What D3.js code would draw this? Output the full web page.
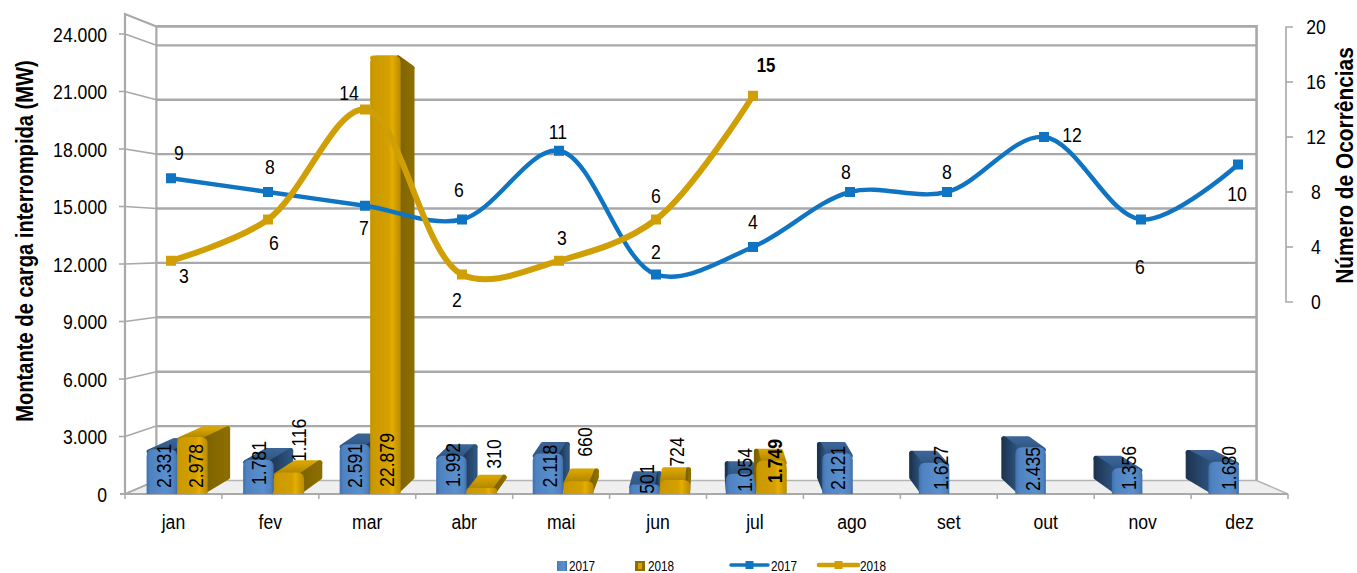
<!DOCTYPE html>
<html><head><meta charset="utf-8">
<script src="https://cdn.jsdelivr.net/npm/d3@7"></script>
<style>
html,body{margin:0;padding:0;background:#fff}
svg{display:block}
text{font-family:"Liberation Sans",Arial,sans-serif;fill:#000}
</style></head><body>
<svg id="c" width="1357" height="573"></svg>
<script>
const months=["jan","fev","mar","abr","mai","jun","jul","ago","set","out","nov","dez"];
const load2017=[2331,1781,2591,1992,2118,501,1054,2121,1627,2435,1356,1680];
const load2018=[2978,1116,22879,310,660,724,1749];
const occ2017=[9,8,7,6,11,2,4,8,8,12,6,10];
const occ2018=[3,6,14,2,3,6,15];
const leftTicks=[0,3000,6000,9000,12000,15000,18000,21000,24000];
const rightTicks=[0,4,8,12,16,20];
// label nudges (layout only)
const lab17=[[-14,-28],[-15,-31],[-16,-28],[-14,-29],[-14,-28],[-13,-15],[-12,-24],[-15,-26],[-9,-26],[-13,-25],[-14,-26],[-10,-26]];
const lab18=[[3,-28],[10,-54],[1,-34],[11,-40],[6,-52],[1,-42],[3,-33]];
const occ17Off=[[8,-26],[2,-26],[-1,22],[-3,-30],[-1,-19],[0,-23],[0,-26],[-4,-21],[0,-21],[28,-3],[-1,47],[-1,29]];
const occ18Off=[[13,15],[6,23],[-16,-17],[-5,25],[3,-23],[0,-24],[13,-31]];

const fmt=d3.format(",");
const ptBr=v=>fmt(v).replace(/,/g,".");
const svg=d3.select("#c");
const L=125,R=1288,floorY=494;
const y=d3.scaleLinear().domain([0,24000]).range([floorY,34]);
const yR=d3.scaleLinear().domain([0,20]).range([302,27]);
const band=d3.scaleBand().domain(months).range([L,R]);
const xPt=d3.scalePoint().domain(months).range([171,1238]);
const vx=706,vy=244,wallK=0.054,barK=0.045,barKY=0.054;
const px=(x,k)=>x+(vx-x)*k, py=(v,k)=>v+(vy-v)*k;
const topFront=14;

const defs=svg.append("defs");
function grad(id,stops,x2=1,y2=0){
  const g=defs.append("linearGradient").attr("id",id).attr("x1",0).attr("y1",0).attr("x2",x2).attr("y2",y2);
  stops.forEach(s=>g.append("stop").attr("offset",s[0]).attr("stop-color",s[1]));
}
grad("bf",[[0,"#3f70ad"],[.12,"#4f82c0"],[.65,"#5a8fce"],[.9,"#4f82bf"],[1,"#3f6ea8"]]);
grad("gf",[[0,"#c49300"],[.12,"#cc9a00"],[.6,"#d4a000"],[.72,"#e6ae05"],[.85,"#cf9c00"],[1,"#b98b00"]]);
grad("bs",[[0,"#1f3654"],[1,"#2f5580"]]);
grad("gs",[[0,"#7d6200"],[1,"#8c6e00"]]);
grad("bt",[[0,"#3a6496"],[1,"#2d5480"]],0,1);
grad("gt",[[0,"#d8a400"],[1,"#a98000"]],0,1);
defs.append("filter").attr("id","soft").attr("x","-5%").attr("y","-5%").attr("width","110%").attr("height","110%")
  .append("feGaussianBlur").attr("stdDeviation",0.6);

// walls
const gridC="#a9a9a9";
const wall=svg.append("g").attr("fill","none").attr("stroke",gridC);
svg.insert("polygon","g").attr("fill","#efefef").attr("stroke","#b5b5b5").attr("stroke-width",1.5)
  .attr("points",[[L,floorY],[R,floorY],[px(R,wallK),py(floorY,wallK)],[px(L,wallK),py(floorY,wallK)]].join(" "));
wall.selectAll("line.g").data(leftTicks.slice(1)).join("line").attr("stroke-width",2.4)
  .attr("x1",px(L,wallK)).attr("x2",px(R,wallK))
  .attr("y1",d=>py(y(d),wallK)).attr("y2",d=>py(y(d),wallK));
wall.selectAll("line.s").data(leftTicks.slice(1)).join("line").attr("stroke-width",1.6)
  .attr("x1",L-6).attr("x2",L).attr("y1",d=>y(d)).attr("y2",d=>y(d));
wall.selectAll("path.s").data(leftTicks).join("path").attr("stroke-width",1.6)
  .attr("d",d=>`M${L},${y(d)}L${px(L,wallK)},${py(y(d),wallK)}`);
const lw=wall.append("g").attr("stroke-width",2.2);
lw.append("path").attr("d",`M${L},${floorY}V${topFront}L${px(L,wallK)},${py(topFront,wallK)}V${py(floorY,wallK)}`);
lw.append("path").attr("d",`M${px(L,wallK)},${py(topFront,wallK)}H${px(R,wallK)}V${py(floorY,wallK)}`).attr("stroke-width",2.6);
// base axis
const base=svg.append("g").attr("stroke","#a9a9a9").attr("fill","none");
base.append("path").attr("stroke-width",1.8).attr("d",`M${L-5},${floorY}H${R}`);
base.selectAll("line").data(d3.range(13)).join("line").attr("stroke-width",1.5)
  .attr("x1",i=>L+i*band.step()).attr("x2",i=>L+i*band.step()).attr("y1",floorY).attr("y2",floorY+5);

// bars
const bw=30.5;
function bar(g,x0,v,c){
  const x1=x0+bw, ty=y(v), by=floorY;
  const dep=(x,yy)=>[px(x,barK),py(yy,barKY)];
  const side=vx<x0 ? x0 : x1;
  const h=by-ty, r=Math.min(7,h/2);
  const pg=(pts,f)=>g.append("polygon").attr("points",pts.join(" ")).attr("fill",f).attr("stroke",f)
     .attr("stroke-width",5).attr("stroke-linejoin","round");
  const s=side, inset=2.5;
  const sx=s===x1?s-inset:s+inset, ox=s===x1?x0+inset:x1-inset;
  pg([[ox,ty+2.5],[sx,ty+2.5],dep(sx,ty+2.5),dep(ox,ty+2.5)],`url(#${c}t)`);
  pg([[sx,ty+2.5],[sx,by-3.5],dep(sx,by-3.5),dep(sx,ty+2.5)],`url(#${c}s)`);
  g.append("path").attr("fill",`url(#${c}f)`)
    .attr("d",`M${x0},${by}V${ty+r}Q${x0},${ty} ${x0+r},${ty}H${x1-r}Q${x1},${ty} ${x1},${ty+r}V${by}Z`);
}
const bars=svg.append("g").attr("filter","url(#soft)");
const bx=m=>band(m)+band.bandwidth()/2+1.5+(vx-(band(m)+band.bandwidth()/2))*0.004;
const order=months.map((m,i)=>i).sort((a,b)=>{
  const da=Math.abs(bx(months[a])-vx),db=Math.abs(bx(months[b])-vx);return db-da;});
order.forEach(i=>{
  const m=months[i],c=bx(m);
  bar(bars,c-bw,load2017[i],"b");
  if(i<load2018.length) bar(bars,c,load2018[i],"g");
});

// lines
const lineGen=a=>d3.line().x((d,i)=>xPt(months[i])).y(d=>yR(d)).curve(d3.curveCatmullRom.alpha(0.5))(a);
[[occ2017,"#0f74c2"],[occ2018,"#cf9f05"]].forEach(([a,col],k)=>{
  const g=svg.append("g");
  g.append("path").attr("d",lineGen(a)).attr("fill","none").attr("stroke",col).attr("stroke-width",k?6:4.4);
  g.selectAll("rect").data(a).join("rect").attr("width",10).attr("height",10)
    .attr("x",(d,i)=>xPt(months[i])-5).attr("y",d=>yR(d)-5).attr("fill",k?"#cf9f05":"#0f74c2");
});

// labels (narrow face emulated by a horizontal squeeze)
const T=svg.append("g");
const NX=0.84, FS=21;
function put(x,yy,s,o={}){
  return T.append("text").attr("transform",`translate(${x},${yy}) ${o.rot?"rotate(-90) ":""}scale(${o.sx||NX},1)`)
   .attr("text-anchor",o.anchor||"middle").attr("dominant-baseline","central")
   .attr("font-size",o.fs||FS).attr("font-weight",o.bold?700:400).text(s);
}
load2017.forEach((v,i)=>{const c=bx(months[i]);put(c+lab17[i][0],floorY+lab17[i][1],ptBr(v),{rot:1});});
load2018.forEach((v,i)=>{const c=bx(months[i]);put(c+bw/2+lab18[i][0],floorY+lab18[i][1],ptBr(v),{rot:1,bold:i===6});});
function nlabel(a,off,boldLast){
  a.forEach((v,i)=>put(xPt(months[i])+off[i][0],yR(v)+off[i][1],v,{bold:boldLast&&i===a.length-1,fs:boldLast&&i===a.length-1?20:FS}));
}
nlabel(occ2017,occ17Off);
nlabel(occ2018,occ18Off,true);

// axes text
leftTicks.forEach(d=>put(107,y(d),d===0?"0":ptBr(d),{anchor:"end"}));
months.forEach(m=>put(band(m)+band.bandwidth()/2,521,m));
rightTicks.forEach(d=>put(1316,yR(d)-1,d));
const ra=svg.append("g").attr("stroke","#a9a9a9").attr("fill","none").attr("stroke-width",1.6);
ra.append("path").attr("d",`M1293,${yR(20)}H1286V${yR(0)}H1293`);
ra.selectAll("line").data(rightTicks.slice(1,-1)).join("line").attr("x1",1286).attr("x2",1293).attr("y1",d=>yR(d)).attr("y2",d=>yR(d));
put(25,241,"Montante de carga interrompida (MW)",{rot:1,bold:1,fs:24,sx:0.84});
put(1345,165.5,"Número de Ocorrências",{rot:1,bold:1,fs:24,sx:0.87});

// legend
const leg=svg.append("g");
const ly=566;
leg.append("rect").attr("x",557).attr("y",ly-5).attr("width",10).attr("height",10).attr("fill","url(#bf)");
leg.append("rect").attr("x",635).attr("y",ly-5).attr("width",10).attr("height",10).attr("fill","#8c6e00");
leg.append("rect").attr("x",638).attr("y",ly-3).attr("width",4).attr("height",6).attr("fill","#d9a400");
[[731,768,"#0f74c2",3.4],[819,858,"#cf9f05",4.6]].forEach(s=>{
  leg.append("line").attr("x1",s[0]).attr("x2",s[1]).attr("y1",ly-1).attr("y2",ly-1).attr("stroke",s[2]).attr("stroke-width",s[3]).attr("stroke-linecap","round");
  leg.append("rect").attr("x",(s[0]+s[1])/2-4).attr("y",ly-5).attr("width",8).attr("height",8).attr("fill",s[2]);
});
[[569,"2017"],[648,"2018"],[771,"2017"],[860,"2018"]].forEach(t=>put(t[0],ly,t[1],{anchor:"start",fs:14}));
</script>
</body></html>
